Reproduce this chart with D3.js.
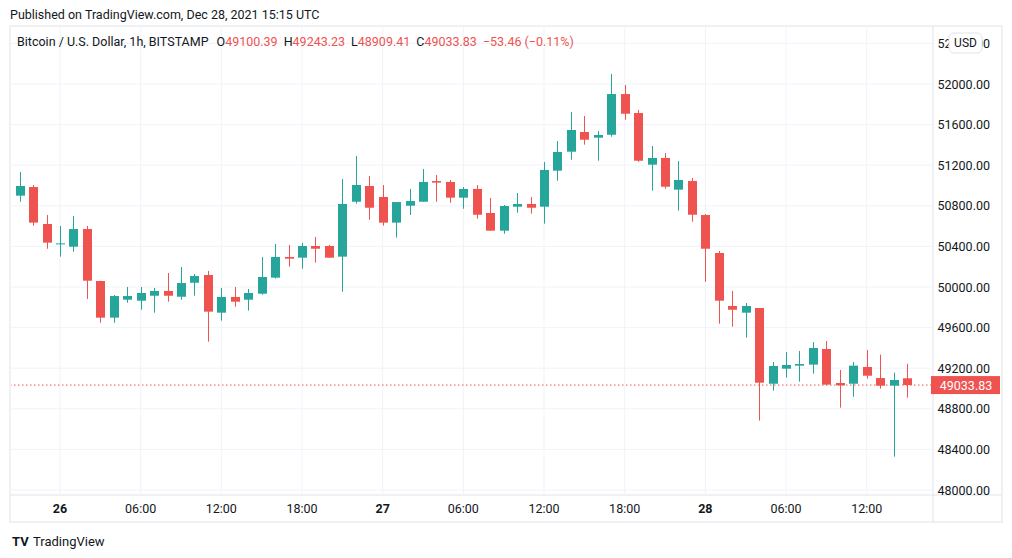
<!DOCTYPE html>
<html><head><meta charset="utf-8">
<script src="https://cdn.jsdelivr.net/npm/d3@7"></script>
<style>body{margin:0;background:#fff;}svg{font-family:Roboto,"Liberation Sans",sans-serif;}</style>
</head><body><svg id="c" width="1012" height="558"></svg>
<script>
// hourly candles, BITSTAMP BTC/USD, starting Dec 25 20:00 UTC
const startTime = "2021-12-25T20:00:00Z";
const opens  = [50930,50900,50985,50621,50420,50397,50571,50059,49698,49875,49865,49914,49961,49904,50042,50118,49747,49902,49875,49934,50092,50296,50289,50404,50404,50299,50840,50995,50887,50634,50801,50840,51044,51035,50880,50966,50729,50555,50791,50818,50791,51146,51333,51527,51471,51500,51901,51714,51205,51271,50959,51044,50709,50335,49813,49747,49793,49047,49195,49225,49235,49389,49054,49047,49212,49103,49028,49100.39];
const highs  = [50935,51133,51005,50709,50601,50700,50601,50062,49921,50000,50000,49990,50138,50197,50128,50158,49990,50000,49980,50296,50424,50414,50434,50493,50414,51064,51291,51094,51005,50837,50966,51163,51103,51054,50985,51005,50877,50808,50926,50887,51232,51438,51724,51685,51537,52099,51990,51744,51389,51320,51241,51074,50719,50355,49961,49842,49793,49261,49360,49370,49458,49468,49183,49261,49379,49333,49156,49243.23];
const lows   = [50915,50840,50604,50377,50299,50348,49882,49648,49648,49845,49776,49747,49855,49875,49914,49461,49668,49806,49767,49924,50083,50200,50180,50240,50289,49954,50821,50663,50604,50486,50709,50840,50840,50830,50771,50673,50555,50525,50732,50722,50624,51047,51254,51402,51244,51481,51648,51234,50949,50969,50752,50643,50052,49639,49609,49501,48683,48978,49107,49067,49146,49035,48811,48919,49097,48998,48328,48909.41];
const closes = [50920,50995,50634,50437,50430,50571,50062,49698,49911,49911,49941,49961,49914,50039,50108,49757,49902,49855,49941,50099,50296,50279,50404,50377,50289,50818,51005,50781,50634,50837,50847,51035,51028,50880,50966,50712,50555,50798,50818,50781,51153,51330,51547,51451,51498,51901,51707,51244,51271,50988,51054,50712,50377,49865,49776,49813,49057,49222,49232,49241,49399,49038,49031,49225,49126,49028,49084,49033.83];
const priceTicks = [48000,48400,48800,49200,49600,50000,50400,50800,51200,51600,52000,52400];
const timeTicks = ["2021-12-26T00:00:00Z","2021-12-26T06:00:00Z","2021-12-26T12:00:00Z","2021-12-26T18:00:00Z","2021-12-27T00:00:00Z","2021-12-27T06:00:00Z","2021-12-27T12:00:00Z","2021-12-27T18:00:00Z","2021-12-28T00:00:00Z","2021-12-28T06:00:00Z","2021-12-28T12:00:00Z"];
const timeLabels = ["26","06:00","12:00","18:00","27","06:00","12:00","18:00","28","06:00","12:00"];
const lastPrice = 49033.83;

const svg = d3.select("#c");
const green="#26a69a", red="#ef5350", grid="#f0f3fa", txt="#131722";
const L=10, R=933, T=26, B=495, AX=1002, AB=522;
const x = d3.scaleUtc().domain([new Date("2021-12-26T00:00:00Z"), new Date("2021-12-28T12:00:00Z")]).range([60, 866.7]);
const y = d3.scaleLinear().domain([48000,52000]).range([490,84]);
const t0 = new Date(startTime).getTime();
const data = opens.map((o,i)=>({t:new Date(t0+i*3600e3),o,h:highs[i],l:lows[i],c:closes[i]}));

svg.append("text").attr("x",10).attr("y",19).attr("font-size",12.5).attr("fill",txt).text("Published on TradingView.com, Dec 28, 2021 15:15 UTC");
svg.append("rect").attr("x",L).attr("y",T).attr("width",AX-L).attr("height",AB-T).attr("fill","none").attr("stroke","#e0e3eb");
svg.append("line").attr("x1",R).attr("x2",R).attr("y1",T).attr("y2",AB).attr("stroke","#e0e3eb");
svg.append("line").attr("x1",L).attr("x2",AX).attr("y1",B).attr("y2",B).attr("stroke","#e0e3eb");

svg.append("clipPath").attr("id","pc").append("rect").attr("x",L+1).attr("y",T+1).attr("width",R-L-1).attr("height",B-T-1);
const pane = svg.append("g").attr("clip-path","url(#pc)");
pane.selectAll(".hg").data(priceTicks).join("line").attr("x1",L).attr("x2",R).attr("y1",d=>y(d)).attr("y2",d=>y(d)).attr("stroke",grid);
pane.selectAll(".vg").data(timeTicks).join("line").attr("x1",d=>x(new Date(d))).attr("x2",d=>x(new Date(d))).attr("y1",T).attr("y2",B).attr("stroke",grid);
pane.append("line").attr("x1",L).attr("x2",R).attr("y1",y(lastPrice)).attr("y2",y(lastPrice)).attr("stroke",red).attr("stroke-dasharray","1.5,2.5");
const g = pane.selectAll(".cd").data(data).join("g");
g.append("line").attr("x1",d=>Math.round(x(d.t))+0.5).attr("x2",d=>Math.round(x(d.t))+0.5).attr("y1",d=>y(d.h)).attr("y2",d=>y(d.l)).attr("stroke",d=>d.c>=d.o?green:red).attr("stroke-width",1);
g.append("rect").attr("x",d=>Math.round(x(d.t))-4).attr("width",9).attr("y",d=>y(Math.max(d.o,d.c))).attr("height",d=>Math.max(1,Math.abs(y(d.o)-y(d.c)))).attr("fill",d=>d.c>=d.o?green:red);

const hdr = svg.append("text").attr("x",17).attr("y",46).attr("font-size",12.5).attr("fill",txt);
hdr.append("tspan").text("Bitcoin / U.S. Dollar, 1h, BITSTAMP");
hdr.append("tspan").attr("dx",8).text("O");
hdr.append("tspan").attr("fill",red).text("49100.39");
hdr.append("tspan").attr("dx",6).text("H");
hdr.append("tspan").attr("fill",red).text("49243.23");
hdr.append("tspan").attr("dx",6).text("L");
hdr.append("tspan").attr("fill",red).text("48909.41");
hdr.append("tspan").attr("dx",6).text("C");
hdr.append("tspan").attr("fill",red).text("49033.83");
hdr.append("tspan").attr("dx",6).attr("fill",red).text("−53.46 (−0.11%)");

svg.selectAll(".pl").data(priceTicks).join("text").attr("x",990).attr("y",d=>y(d)+4.5).attr("text-anchor","end").attr("font-size",12.5).attr("fill",txt).text(d=>d3.format(".2f")(d));
svg.append("rect").attr("x",949).attr("y",33).attr("width",33).attr("height",20).attr("rx",5).attr("fill","#fff").attr("stroke","#e0e3eb");
svg.append("text").attr("x",965.5).attr("y",47).attr("text-anchor","middle").attr("font-size",12).attr("fill",txt).text("USD");
svg.append("rect").attr("x",931).attr("y",y(lastPrice)-9).attr("width",69).attr("height",18).attr("fill",red);
svg.append("text").attr("x",966).attr("y",y(lastPrice)+4.5).attr("text-anchor","middle").attr("font-size",12.5).attr("fill","#fff").text(d3.format(".2f")(lastPrice));

svg.selectAll(".tl").data(timeTicks).join("text").attr("x",d=>x(new Date(d))).attr("y",513).attr("text-anchor","middle").attr("font-size",12.5).attr("fill",txt)
  .attr("font-weight",(d,i)=>timeLabels[i].length===2?"bold":"normal").text((d,i)=>timeLabels[i]);

svg.append("text").attr("x",12).attr("y",546).attr("font-size",13).attr("font-weight","bold").attr("fill",txt).text("TV");
svg.append("text").attr("x",33).attr("y",546).attr("font-size",13).attr("fill",txt).text("TradingView");
</script></body></html>
